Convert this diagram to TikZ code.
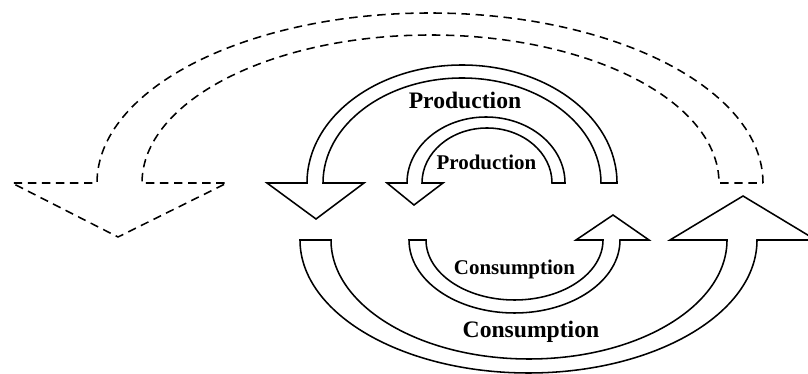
\documentclass[tikz,border=0pt]{standalone}
\usepackage{fontspec}
\setmainfont{Liberation Serif}
\usepackage{tikz}

\tikzset{
  band/.style={draw=black, line width=1.1pt, line join=miter},
  dashband/.style={band, dash pattern=on 6pt off 4pt},
  bigword/.style={font=\bfseries\fontsize{16.8}{20}\selectfont, anchor=base, inner sep=0pt},
  smallword/.style={font=\bfseries\fontsize{14.9}{18}\selectfont, anchor=base, inner sep=0pt}
}

\begin{document}
\begin{tikzpicture}[x=0.025cm, y=0.025cm]
\useasboundingbox (0,0) rectangle (808,374);
\begin{scope}
\clip (0,0) rectangle (808,374);

\draw[dashband] (763,191) arc[start angle=0, end angle=180, x radius=333, y radius=170]
  -- (12,191) -- (118,137) -- (227,191) -- (142,191)
  arc[start angle=180, end angle=0, x radius=288.5, y radius=148] -- cycle;

\draw[band] (617,191) arc[start angle=0, end angle=180, x radius=155, y radius=118]
  -- (267,191) -- (316,155) -- (364,191) -- (323,191)
  arc[start angle=180, end angle=0, x radius=139, y radius=105] -- cycle;
\draw[band] (565,191) arc[start angle=0, end angle=180, x radius=79, y radius=66]
  -- (387,191) -- (414,169) -- (443,191) -- (422,191)
  arc[start angle=180, end angle=0, x radius=65, y radius=55] -- cycle;

\draw[band] (409,134) arc[start angle=180, end angle=360, x radius=105.5, y radius=73]
  -- (649,134) -- (613,159) -- (576,134) -- (603,134)
  arc[start angle=360, end angle=180, x radius=88.5, y radius=60] -- cycle;
\draw[band] (300,134) arc[start angle=180, end angle=360, x radius=228.5, y radius=133]
  -- (816,134) -- (743,178) -- (670,134) -- (727,134)
  arc[start angle=360, end angle=180, x radius=198, y radius=119] -- cycle;
\end{scope}

\node[bigword] (bigprod) at (465,265) {Production};
\node[smallword] (smallprod) at (486.5,204) {Production};
\node[smallword] (smallcons) at (514.5,99) {Consumption};
\node[bigword] (bigcons) at (531,36) {Consumption};

\end{tikzpicture}
\end{document}
